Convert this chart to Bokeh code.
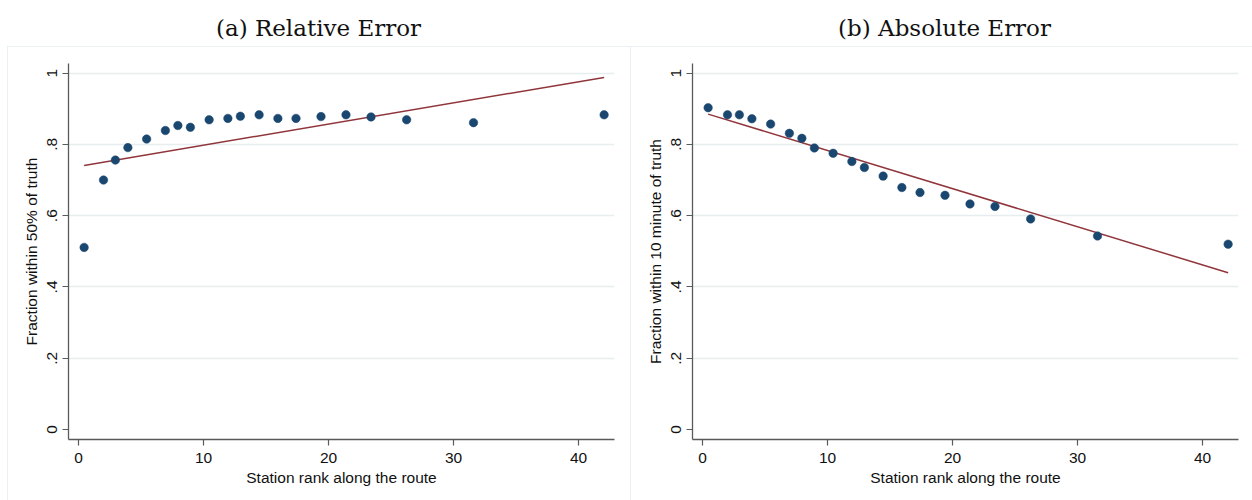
from bokeh.plotting import figure
from bokeh.layouts import row, column
from bokeh.models import Range1d, FixedTicker, ColumnDataSource, Spacer
from bokeh.core.properties import value
from bokeh.embed import file_html
from bokeh.resources import INLINE

# ---- data ----
station_rank = [0.45, 2.0, 2.95, 3.95, 5.45, 6.95, 7.95, 8.95, 10.45, 11.95,
                12.95, 14.45, 15.95, 17.4, 19.4, 21.4, 23.4, 26.25, 31.6, 42.05]
rel_within_50pct = [0.511, 0.700, 0.756, 0.791, 0.815, 0.839, 0.853, 0.848, 0.869, 0.873,
                    0.879, 0.883, 0.873, 0.873, 0.878, 0.883, 0.877, 0.869, 0.861, 0.883]
abs_within_10min = [0.903, 0.883, 0.883, 0.872, 0.857, 0.831, 0.817, 0.790, 0.775, 0.752,
                    0.735, 0.711, 0.679, 0.665, 0.657, 0.633, 0.626, 0.591, 0.543, 0.520]
fit_x = [0.45, 42.05]
rel_fit = [0.741, 0.988]
abs_fit = [0.885, 0.440]

titles = ["(a) Relative Error", "(b) Absolute Error"]
y_labels = ["Fraction within 50% of truth", "Fraction within 10 minute of truth"]
x_label = "Station rank along the route"
x_ticks = [0, 10, 20, 30, 40]
y_ticks = [0, 0.2, 0.4, 0.6, 0.8, 1.0]
y_tick_labels = ["0", ".2", ".4", ".6", ".8", "1"]

NAVY = "#1a476f"
MAROON = "#90353b"
GRID = "#e6eef0"
AXIS = "#5a5a5a"
BORDER = "#e3ecef"


def make_title(width, text):
    t = figure(width=width, height=46, output_backend="svg", toolbar_location=None,
               x_range=Range1d(0, width), y_range=Range1d(0, 46),
               min_border=0, min_border_left=0, min_border_right=0,
               min_border_top=0, min_border_bottom=0)
    t.axis.visible = False
    t.grid.visible = False
    t.outline_line_color = None
    t.text(x=[width / 2.0], y=[46 - 27], text=[text], text_align="center",
           text_baseline="alphabetic", text_font=value("DejaVu Serif"),
           text_font_size="23px", text_color="#111111")
    return t


def make_panel(width, left, right, ys, fit_y, ylabel):
    p = figure(width=width, height=454, output_backend="svg", toolbar_location=None,
               x_range=Range1d(-0.8, 42.88), y_range=Range1d(-0.028, 1.027),
               min_border_left=left, min_border_right=right,
               min_border_top=17, min_border_bottom=61,
               styles={"outline": "1.5px solid " + BORDER, "outline-offset": "-1.5px"})
    p.outline_line_color = None

    src = ColumnDataSource(dict(x=station_rank, y=ys))
    p.line(fit_x, fit_y, line_color=MAROON, line_width=1.5)
    p.scatter("x", "y", source=src, size=8.5, fill_color=NAVY, line_color=NAVY, line_width=0.5)

    p.xgrid.visible = False
    p.ygrid.ticker = FixedTicker(ticks=[0.2, 0.4, 0.6, 0.8, 1.0])
    p.ygrid.grid_line_color = GRID
    p.ygrid.grid_line_width = 1.3

    for ax in (p.xaxis[0], p.yaxis[0]):
        ax.axis_line_color = AXIS
        ax.axis_line_width = 1.3
        ax.major_tick_line_color = AXIS
        ax.major_tick_line_width = 1.2
        ax.major_tick_out = 6
        ax.major_tick_in = 0
        ax.minor_tick_line_color = None
        ax.major_label_text_font = "Liberation Sans"
        ax.major_label_text_font_size = "15.5px"
        ax.major_label_text_color = "#111111"
        ax.axis_label_text_font = "Liberation Sans"
        ax.axis_label_text_font_size = "15.5px"
        ax.axis_label_text_font_style = "normal"
        ax.axis_label_text_color = "#111111"

    p.xaxis.ticker = FixedTicker(ticks=x_ticks)
    p.xaxis.axis_label = x_label
    p.xaxis.major_label_standoff = 7
    p.xaxis.axis_label_standoff = 3

    p.yaxis.ticker = FixedTicker(ticks=y_ticks)
    p.yaxis.major_label_overrides = {t: s for t, s in zip(y_ticks, y_tick_labels)}
    p.yaxis.major_label_orientation = "vertical"
    p.yaxis.axis_label = ylabel
    p.yaxis.major_label_standoff = 5
    p.yaxis.axis_label_standoff = 5
    return p


ta = make_title(636, titles[0])
tb = make_title(616, titles[1])
pa = make_panel(623, 61, 16, rel_within_50pct, rel_fit, y_labels[0])
pb = make_panel(622, 62, 14, abs_within_10min, abs_fit, y_labels[1])

layout = column(row(ta, tb), row(Spacer(width=7, height=454), pa, pb))
open("out.html", "w").write(file_html(layout, INLINE))
